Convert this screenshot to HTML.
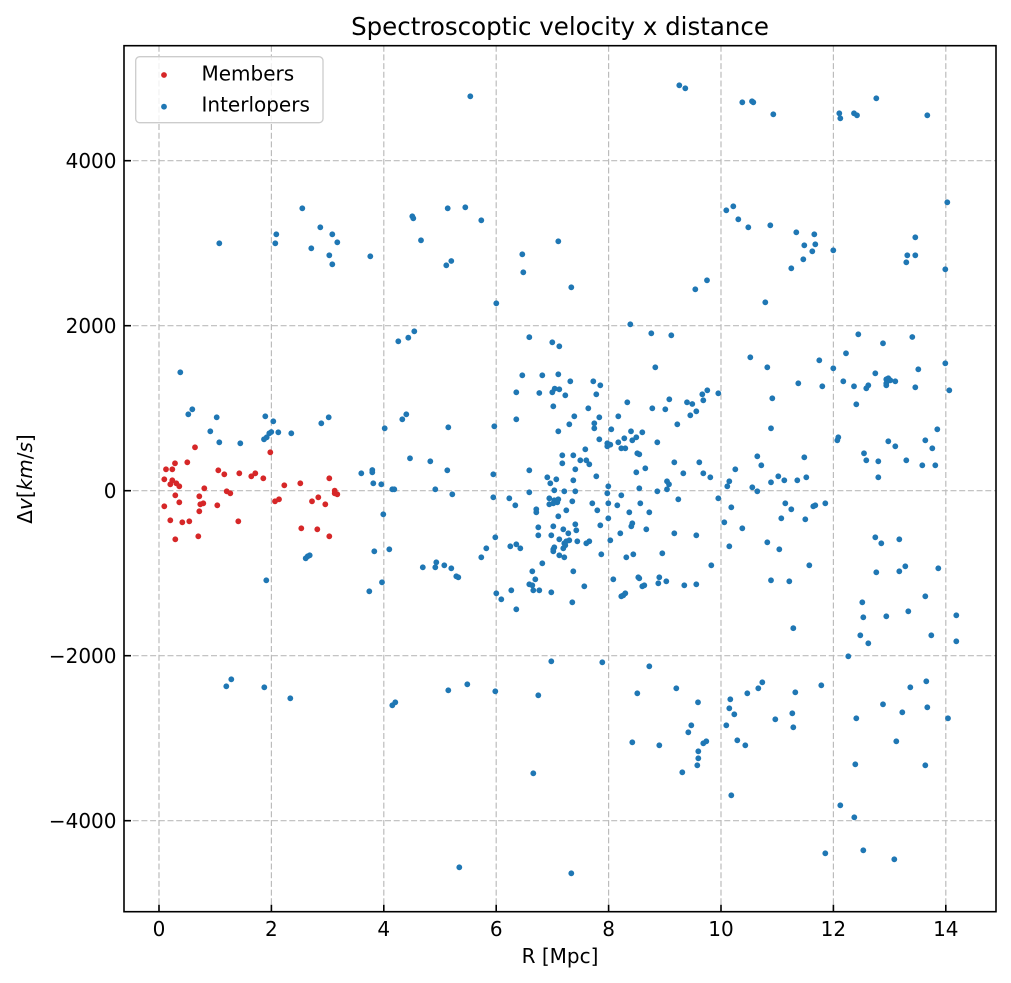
<!DOCTYPE html>
<html>
<head>
<meta charset="utf-8">
<style>
html,body{margin:0;padding:0;background:#fff;}
svg{display:block;}
text{font-family:"DejaVu Sans","Liberation Sans",sans-serif;fill:#000;}
</style>
</head>
<body>
<svg width="1011" height="983" viewBox="0 0 1011 983" xmlns="http://www.w3.org/2000/svg">
<rect x="0" y="0" width="1011" height="983" fill="#fff"/>
<!-- grid -->
<g stroke="#bcbcbc" stroke-width="1.2" stroke-dasharray="6,2.7" fill="none">
<line x1="159" y1="45.7" x2="159" y2="911.7"/>
<line x1="271.4" y1="45.7" x2="271.4" y2="911.7"/>
<line x1="383.8" y1="45.7" x2="383.8" y2="911.7"/>
<line x1="496.2" y1="45.7" x2="496.2" y2="911.7"/>
<line x1="608.6" y1="45.7" x2="608.6" y2="911.7"/>
<line x1="721" y1="45.7" x2="721" y2="911.7"/>
<line x1="833.4" y1="45.7" x2="833.4" y2="911.7"/>
<line x1="945.8" y1="45.7" x2="945.8" y2="911.7"/>
<line x1="124" y1="160.7" x2="996" y2="160.7"/>
<line x1="124" y1="325.7" x2="996" y2="325.7"/>
<line x1="124" y1="490.7" x2="996" y2="490.7"/>
<line x1="124" y1="655.7" x2="996" y2="655.7"/>
<line x1="124" y1="820.7" x2="996" y2="820.7"/>
</g>
<!-- interlopers -->
<g fill="#1f77b4">
<circle cx="219.3" cy="243.3" r="2.9"/><circle cx="276.3" cy="234.3" r="2.9"/><circle cx="275.3" cy="243.3" r="2.9"/><circle cx="302.3" cy="208.3" r="2.9"/><circle cx="320.3" cy="227.3" r="2.9"/><circle cx="332.3" cy="234.3" r="2.9"/><circle cx="337.3" cy="242.3" r="2.9"/><circle cx="311.3" cy="248.3" r="2.9"/><circle cx="329.3" cy="255.3" r="2.9"/><circle cx="332.3" cy="264.3" r="2.9"/><circle cx="370.3" cy="256.3" r="2.9"/><circle cx="412.3" cy="216.3" r="2.9"/><circle cx="413.3" cy="218.3" r="2.9"/><circle cx="421" cy="240.3" r="2.9"/><circle cx="414.3" cy="331.3" r="2.9"/><circle cx="408.3" cy="337.7" r="2.9"/><circle cx="398.3" cy="341.3" r="2.9"/>
<circle cx="470.3" cy="96.3" r="2.9"/><circle cx="679.3" cy="85.3" r="2.9"/><circle cx="685.3" cy="88.3" r="2.9"/><circle cx="447.7" cy="208.3" r="2.9"/><circle cx="465.3" cy="207.3" r="2.9"/><circle cx="481.3" cy="220.3" r="2.9"/><circle cx="446.3" cy="265.3" r="2.9"/><circle cx="451.3" cy="261" r="2.9"/><circle cx="522.3" cy="254.3" r="2.9"/><circle cx="523.3" cy="272.3" r="2.9"/><circle cx="558.3" cy="241.3" r="2.9"/><circle cx="571.3" cy="287.3" r="2.9"/><circle cx="496.3" cy="303.3" r="2.9"/><circle cx="630.3" cy="324.3" r="2.9"/><circle cx="651.3" cy="333.3" r="2.9"/><circle cx="671.3" cy="335.3" r="2.9"/><circle cx="695.3" cy="289.3" r="2.9"/><circle cx="707" cy="280.3" r="2.9"/><circle cx="529.3" cy="337.2" r="2.9"/><circle cx="552.3" cy="342.3" r="2.9"/><circle cx="559.3" cy="346.3" r="2.9"/>
<circle cx="742.3" cy="102.3" r="2.9"/><circle cx="752" cy="101.3" r="2.9"/><circle cx="753.3" cy="102.3" r="2.9"/><circle cx="773.3" cy="114.3" r="2.9"/><circle cx="839.3" cy="113.3" r="2.9"/><circle cx="840.3" cy="118.3" r="2.9"/><circle cx="854" cy="113.3" r="2.9"/><circle cx="857" cy="115.3" r="2.9"/><circle cx="876.3" cy="98.3" r="2.9"/><circle cx="927.3" cy="115.3" r="2.9"/><circle cx="726.3" cy="210.3" r="2.9"/><circle cx="733.3" cy="206.3" r="2.9"/><circle cx="738.3" cy="219.3" r="2.9"/><circle cx="748.3" cy="227.3" r="2.9"/><circle cx="770.3" cy="225.3" r="2.9"/><circle cx="796.3" cy="232.3" r="2.9"/><circle cx="814.3" cy="234.3" r="2.9"/><circle cx="804.3" cy="245.3" r="2.9"/><circle cx="815.3" cy="244.3" r="2.9"/><circle cx="812.3" cy="251.3" r="2.9"/><circle cx="803.3" cy="259.3" r="2.9"/><circle cx="791.3" cy="268.3" r="2.9"/><circle cx="833.3" cy="250.3" r="2.9"/><circle cx="765.3" cy="302.3" r="2.9"/><circle cx="947.3" cy="202.3" r="2.9"/><circle cx="915.3" cy="237.3" r="2.9"/><circle cx="907.3" cy="255.3" r="2.9"/><circle cx="915.3" cy="255.3" r="2.9"/><circle cx="906.3" cy="262.3" r="2.9"/><circle cx="945.3" cy="269.3" r="2.9"/><circle cx="858.3" cy="334.3" r="2.9"/><circle cx="912.3" cy="337" r="2.9"/>
<circle cx="180.3" cy="372.3" r="2.9"/><circle cx="188.3" cy="414.3" r="2.9"/><circle cx="192.3" cy="409.3" r="2.9"/><circle cx="216.7" cy="417.3" r="2.9"/><circle cx="210.3" cy="431.3" r="2.9"/><circle cx="219.3" cy="442.3" r="2.9"/><circle cx="240.3" cy="443.3" r="2.9"/><circle cx="265.3" cy="416.3" r="2.9"/><circle cx="273.3" cy="421.3" r="2.9"/><circle cx="264" cy="439.3" r="2.9"/><circle cx="266.7" cy="437.3" r="2.9"/><circle cx="269.3" cy="433.3" r="2.9"/><circle cx="271.3" cy="432" r="2.9"/><circle cx="278.3" cy="432.3" r="2.9"/><circle cx="291.3" cy="433.3" r="2.9"/><circle cx="321.3" cy="423.3" r="2.9"/><circle cx="328.7" cy="417.3" r="2.9"/><circle cx="402.3" cy="419.3" r="2.9"/><circle cx="406.3" cy="414.3" r="2.9"/><circle cx="384.7" cy="428.3" r="2.9"/><circle cx="410" cy="458.3" r="2.9"/><circle cx="361.3" cy="473.3" r="2.9"/><circle cx="372.3" cy="470" r="2.9"/><circle cx="372.3" cy="472.3" r="2.9"/><circle cx="373.3" cy="483.3" r="2.9"/><circle cx="381.3" cy="484.3" r="2.9"/><circle cx="392.3" cy="489.3" r="2.9"/><circle cx="394.3" cy="489.3" r="2.9"/><circle cx="383.3" cy="514.3" r="2.9"/><circle cx="374.3" cy="551.3" r="2.9"/><circle cx="389.3" cy="549.3" r="2.9"/><circle cx="422.8" cy="567.3" r="2.9"/><circle cx="305.7" cy="558.3" r="2.9"/><circle cx="307.7" cy="556.3" r="2.9"/><circle cx="309.7" cy="555.3" r="2.9"/><circle cx="266.3" cy="580.3" r="2.9"/><circle cx="382" cy="582.3" r="2.9"/><circle cx="369.3" cy="591.3" r="2.9"/>
<circle cx="655.3" cy="367.3" r="2.9"/><circle cx="522.3" cy="375.3" r="2.9"/><circle cx="542.3" cy="375.3" r="2.9"/><circle cx="558.3" cy="374.3" r="2.9"/><circle cx="570.3" cy="381.3" r="2.9"/><circle cx="593.3" cy="381.3" r="2.9"/><circle cx="600.3" cy="385.3" r="2.9"/><circle cx="516.3" cy="392.3" r="2.9"/><circle cx="539.3" cy="393" r="2.9"/><circle cx="552.3" cy="392.3" r="2.9"/><circle cx="554.7" cy="388.7" r="2.9"/><circle cx="559.3" cy="389.3" r="2.9"/><circle cx="565.3" cy="395.3" r="2.9"/><circle cx="596.3" cy="394.3" r="2.9"/><circle cx="553.3" cy="406.3" r="2.9"/><circle cx="588.3" cy="408.3" r="2.9"/><circle cx="627.3" cy="402.3" r="2.9"/><circle cx="652.3" cy="408.3" r="2.9"/><circle cx="665.3" cy="409.3" r="2.9"/><circle cx="669.3" cy="399.3" r="2.9"/><circle cx="687" cy="402.3" r="2.9"/><circle cx="692.3" cy="404" r="2.9"/><circle cx="702.3" cy="394.3" r="2.9"/><circle cx="707.3" cy="390.3" r="2.9"/><circle cx="703.3" cy="400.3" r="2.9"/><circle cx="718.3" cy="393.3" r="2.9"/><circle cx="696.3" cy="411.3" r="2.9"/><circle cx="690.3" cy="415.3" r="2.9"/><circle cx="677.3" cy="424.3" r="2.9"/><circle cx="448.3" cy="427.3" r="2.9"/><circle cx="494.3" cy="426.3" r="2.9"/><circle cx="516.3" cy="419.3" r="2.9"/><circle cx="574.3" cy="416.3" r="2.9"/><circle cx="569.3" cy="424.3" r="2.9"/><circle cx="558.3" cy="431.3" r="2.9"/><circle cx="599.3" cy="417.3" r="2.9"/><circle cx="594.3" cy="423.3" r="2.9"/><circle cx="594.3" cy="428.3" r="2.9"/><circle cx="618.3" cy="416.3" r="2.9"/><circle cx="611.3" cy="429.3" r="2.9"/><circle cx="631" cy="431.3" r="2.9"/><circle cx="642.3" cy="432.3" r="2.9"/><circle cx="599.3" cy="439.3" r="2.9"/><circle cx="607.3" cy="443.3" r="2.9"/><circle cx="610.3" cy="444.7" r="2.9"/><circle cx="607.3" cy="446.3" r="2.9"/><circle cx="618.3" cy="442.3" r="2.9"/><circle cx="624.3" cy="438.3" r="2.9"/><circle cx="632.3" cy="440.3" r="2.9"/><circle cx="636.3" cy="437.3" r="2.9"/><circle cx="621.3" cy="448.3" r="2.9"/><circle cx="625.3" cy="448.3" r="2.9"/><circle cx="657.3" cy="442.3" r="2.9"/><circle cx="637.3" cy="453.3" r="2.9"/><circle cx="639.3" cy="454.3" r="2.9"/><circle cx="585.3" cy="449.3" r="2.9"/><circle cx="562.3" cy="455.3" r="2.9"/><circle cx="573.3" cy="455.3" r="2.9"/><circle cx="580.3" cy="460.3" r="2.9"/><circle cx="586.3" cy="460.3" r="2.9"/><circle cx="589.3" cy="464.3" r="2.9"/><circle cx="562.3" cy="463.3" r="2.9"/><circle cx="575.3" cy="469.3" r="2.9"/><circle cx="430.3" cy="461.3" r="2.9"/><circle cx="447.3" cy="470.3" r="2.9"/><circle cx="493.3" cy="474.3" r="2.9"/><circle cx="529.3" cy="470.3" r="2.9"/><circle cx="547.3" cy="477.3" r="2.9"/><circle cx="556.3" cy="479.3" r="2.9"/><circle cx="550.3" cy="483.3" r="2.9"/><circle cx="573.3" cy="480.3" r="2.9"/><circle cx="596.3" cy="476.3" r="2.9"/><circle cx="636.3" cy="472.3" r="2.9"/><circle cx="645.3" cy="468.3" r="2.9"/><circle cx="674.3" cy="462.3" r="2.9"/><circle cx="683.3" cy="473.3" r="2.9"/><circle cx="699.3" cy="462.3" r="2.9"/><circle cx="703.3" cy="473.3" r="2.9"/><circle cx="710.3" cy="477.3" r="2.9"/><circle cx="667" cy="481.3" r="2.9"/><circle cx="669" cy="484.3" r="2.9"/><circle cx="667" cy="489.3" r="2.9"/><circle cx="657.3" cy="491.3" r="2.9"/><circle cx="639.3" cy="488.3" r="2.9"/><circle cx="608.3" cy="486.3" r="2.9"/><circle cx="607.3" cy="493.3" r="2.9"/><circle cx="435.3" cy="489.3" r="2.9"/><circle cx="452.3" cy="494.3" r="2.9"/><circle cx="493.3" cy="497.3" r="2.9"/><circle cx="509.3" cy="498.3" r="2.9"/><circle cx="515.3" cy="505.3" r="2.9"/><circle cx="529.3" cy="492.3" r="2.9"/><circle cx="554.3" cy="490.3" r="2.9"/><circle cx="564.3" cy="491.3" r="2.9"/><circle cx="575.3" cy="491.3" r="2.9"/><circle cx="549.3" cy="498.3" r="2.9"/><circle cx="554.3" cy="500.3" r="2.9"/><circle cx="558.3" cy="499.3" r="2.9"/><circle cx="549.3" cy="504.3" r="2.9"/><circle cx="553.3" cy="503.3" r="2.9"/><circle cx="557.3" cy="502.3" r="2.9"/><circle cx="572.3" cy="501.3" r="2.9"/><circle cx="592.3" cy="503.3" r="2.9"/><circle cx="608.3" cy="503.3" r="2.9"/><circle cx="617.3" cy="505.3" r="2.9"/><circle cx="621.3" cy="495.3" r="2.9"/><circle cx="640.3" cy="503.3" r="2.9"/><circle cx="678.3" cy="499.3" r="2.9"/><circle cx="718.3" cy="498.3" r="2.9"/><circle cx="536.3" cy="509.3" r="2.9"/><circle cx="536.3" cy="512.3" r="2.9"/><circle cx="566.3" cy="510.3" r="2.9"/><circle cx="558.3" cy="516.3" r="2.9"/><circle cx="597.3" cy="510.3" r="2.9"/><circle cx="629.3" cy="512.3" r="2.9"/><circle cx="649.3" cy="512.3" r="2.9"/><circle cx="608.3" cy="518.3" r="2.9"/><circle cx="600.3" cy="525.3" r="2.9"/><circle cx="575.3" cy="524.3" r="2.9"/><circle cx="576.3" cy="530.3" r="2.9"/><circle cx="553.3" cy="526.3" r="2.9"/><circle cx="563.3" cy="529.3" r="2.9"/><circle cx="568.3" cy="533.3" r="2.9"/><circle cx="538.3" cy="527.3" r="2.9"/><circle cx="538.3" cy="535.3" r="2.9"/><circle cx="551.3" cy="535.3" r="2.9"/><circle cx="559.3" cy="539.3" r="2.9"/><circle cx="564.3" cy="543.3" r="2.9"/><circle cx="566.3" cy="541.3" r="2.9"/><circle cx="569.3" cy="540.3" r="2.9"/><circle cx="563.3" cy="548.3" r="2.9"/><circle cx="565.3" cy="545.3" r="2.9"/><circle cx="577.3" cy="541.3" r="2.9"/><circle cx="586.3" cy="543.3" r="2.9"/><circle cx="589.3" cy="541.3" r="2.9"/><circle cx="632.3" cy="523.3" r="2.9"/><circle cx="631.3" cy="526.3" r="2.9"/><circle cx="646.3" cy="529.3" r="2.9"/><circle cx="620.3" cy="533.3" r="2.9"/><circle cx="610.3" cy="540.3" r="2.9"/><circle cx="674.3" cy="533.3" r="2.9"/><circle cx="696.3" cy="535.3" r="2.9"/><circle cx="495.3" cy="537.3" r="2.9"/><circle cx="486.3" cy="548.3" r="2.9"/><circle cx="481.3" cy="557.3" r="2.9"/><circle cx="510.3" cy="546.3" r="2.9"/><circle cx="516.3" cy="544.3" r="2.9"/><circle cx="520.3" cy="548.3" r="2.9"/><circle cx="553.3" cy="549.3" r="2.9"/><circle cx="554.3" cy="547.3" r="2.9"/><circle cx="553.3" cy="551.3" r="2.9"/><circle cx="559.3" cy="555.3" r="2.9"/><circle cx="564.3" cy="557.3" r="2.9"/><circle cx="601.3" cy="554.3" r="2.9"/><circle cx="626.3" cy="557.3" r="2.9"/><circle cx="633.3" cy="554.3" r="2.9"/><circle cx="662.3" cy="553.3" r="2.9"/><circle cx="711.3" cy="565.3" r="2.9"/><circle cx="435.3" cy="567.3" r="2.9"/><circle cx="436.3" cy="562.3" r="2.9"/><circle cx="444.3" cy="565.3" r="2.9"/><circle cx="451.3" cy="568.3" r="2.9"/><circle cx="456.3" cy="576.3" r="2.9"/><circle cx="458.3" cy="577.3" r="2.9"/><circle cx="542.3" cy="563.3" r="2.9"/><circle cx="532.3" cy="571.3" r="2.9"/><circle cx="573.3" cy="571.3" r="2.9"/><circle cx="535.3" cy="579.3" r="2.9"/><circle cx="529.3" cy="584.3" r="2.9"/><circle cx="532.3" cy="585.3" r="2.9"/><circle cx="533.3" cy="590.3" r="2.9"/><circle cx="539.3" cy="590.3" r="2.9"/><circle cx="551.3" cy="592.3" r="2.9"/><circle cx="584.3" cy="586.3" r="2.9"/><circle cx="613.3" cy="579.3" r="2.9"/><circle cx="638.3" cy="577.3" r="2.9"/><circle cx="639.3" cy="578.3" r="2.9"/><circle cx="642.3" cy="586.3" r="2.9"/><circle cx="644.3" cy="585.3" r="2.9"/><circle cx="659.3" cy="577.3" r="2.9"/><circle cx="658.3" cy="583.3" r="2.9"/><circle cx="666.3" cy="581.3" r="2.9"/><circle cx="684.3" cy="585.3" r="2.9"/><circle cx="696.3" cy="584.3" r="2.9"/><circle cx="496.3" cy="593.3" r="2.9"/><circle cx="501.3" cy="599.3" r="2.9"/><circle cx="511.3" cy="590.3" r="2.9"/><circle cx="516.3" cy="609.3" r="2.9"/><circle cx="572.3" cy="602.3" r="2.9"/><circle cx="621.3" cy="596.3" r="2.9"/><circle cx="623.3" cy="595.3" r="2.9"/><circle cx="625.3" cy="593.3" r="2.9"/>
<circle cx="883" cy="343.3" r="2.9"/><circle cx="846" cy="353.3" r="2.9"/><circle cx="750.3" cy="357.3" r="2.9"/><circle cx="767.3" cy="367.3" r="2.9"/><circle cx="819.3" cy="360.3" r="2.9"/><circle cx="833.3" cy="368.3" r="2.9"/><circle cx="945.3" cy="363.3" r="2.9"/><circle cx="918.3" cy="369.3" r="2.9"/><circle cx="875.3" cy="373.3" r="2.9"/><circle cx="843.3" cy="381.3" r="2.9"/><circle cx="854" cy="386.3" r="2.9"/><circle cx="866.3" cy="388.3" r="2.9"/><circle cx="868.3" cy="385.3" r="2.9"/><circle cx="886.3" cy="379.3" r="2.9"/><circle cx="888.3" cy="378.3" r="2.9"/><circle cx="886.3" cy="383.3" r="2.9"/><circle cx="890.3" cy="380.3" r="2.9"/><circle cx="886.3" cy="385.3" r="2.9"/><circle cx="895.3" cy="381.3" r="2.9"/><circle cx="915.3" cy="387.3" r="2.9"/><circle cx="949.3" cy="390.3" r="2.9"/><circle cx="798.3" cy="383.3" r="2.9"/><circle cx="822.3" cy="386.3" r="2.9"/><circle cx="772.3" cy="398.3" r="2.9"/><circle cx="856.3" cy="404.3" r="2.9"/><circle cx="771" cy="428.3" r="2.9"/><circle cx="837.3" cy="440.3" r="2.9"/><circle cx="838.3" cy="437.3" r="2.9"/><circle cx="937.3" cy="429.3" r="2.9"/><circle cx="888.3" cy="441.3" r="2.9"/><circle cx="895.3" cy="446.3" r="2.9"/><circle cx="925.3" cy="440.3" r="2.9"/><circle cx="932.3" cy="448.3" r="2.9"/><circle cx="864" cy="453.3" r="2.9"/><circle cx="866.3" cy="460.3" r="2.9"/><circle cx="878.3" cy="461.3" r="2.9"/><circle cx="906.3" cy="460.3" r="2.9"/><circle cx="922.3" cy="465.3" r="2.9"/><circle cx="935.3" cy="465.3" r="2.9"/><circle cx="878.3" cy="477.3" r="2.9"/><circle cx="757.3" cy="456.3" r="2.9"/><circle cx="761.3" cy="465.3" r="2.9"/><circle cx="804.3" cy="457.3" r="2.9"/><circle cx="735.3" cy="469.3" r="2.9"/><circle cx="778.3" cy="476.3" r="2.9"/><circle cx="784.3" cy="480.3" r="2.9"/><circle cx="771" cy="482.3" r="2.9"/><circle cx="797.3" cy="480.3" r="2.9"/><circle cx="806.3" cy="477.3" r="2.9"/><circle cx="729.3" cy="481.3" r="2.9"/><circle cx="727.3" cy="486.3" r="2.9"/><circle cx="752.3" cy="487.3" r="2.9"/><circle cx="757.3" cy="491.3" r="2.9"/><circle cx="731.3" cy="507.3" r="2.9"/><circle cx="785.3" cy="503.3" r="2.9"/><circle cx="791.3" cy="509.3" r="2.9"/><circle cx="813.3" cy="506.3" r="2.9"/><circle cx="815.3" cy="505.3" r="2.9"/><circle cx="825.3" cy="503.3" r="2.9"/><circle cx="781.3" cy="518.3" r="2.9"/><circle cx="805.3" cy="519.3" r="2.9"/><circle cx="724.3" cy="522.3" r="2.9"/><circle cx="742.3" cy="528.3" r="2.9"/><circle cx="767.3" cy="542.3" r="2.9"/><circle cx="779.3" cy="549.3" r="2.9"/><circle cx="729.3" cy="546.3" r="2.9"/><circle cx="809.3" cy="565.3" r="2.9"/><circle cx="771" cy="580.3" r="2.9"/><circle cx="789.3" cy="581.3" r="2.9"/><circle cx="793.3" cy="628.2" r="2.9"/><circle cx="875.3" cy="537.3" r="2.9"/><circle cx="881.3" cy="543.3" r="2.9"/><circle cx="899.3" cy="539.3" r="2.9"/><circle cx="876.3" cy="572.3" r="2.9"/><circle cx="899.3" cy="571.3" r="2.9"/><circle cx="905.3" cy="566.3" r="2.9"/><circle cx="938.3" cy="568.3" r="2.9"/><circle cx="925.3" cy="596.3" r="2.9"/><circle cx="862.3" cy="602.3" r="2.9"/><circle cx="863.3" cy="617.3" r="2.9"/><circle cx="886.3" cy="616.3" r="2.9"/><circle cx="908.3" cy="611.3" r="2.9"/><circle cx="956.3" cy="615.3" r="2.9"/>
<circle cx="226.3" cy="686.3" r="2.9"/><circle cx="231.3" cy="679.3" r="2.9"/><circle cx="264.3" cy="687.3" r="2.9"/><circle cx="290.3" cy="698.3" r="2.9"/><circle cx="392.3" cy="705.3" r="2.9"/><circle cx="395.3" cy="702.3" r="2.9"/>
<circle cx="448.3" cy="690.3" r="2.9"/><circle cx="467.3" cy="684.3" r="2.9"/><circle cx="495.3" cy="691.3" r="2.9"/><circle cx="538.3" cy="695.3" r="2.9"/><circle cx="551.3" cy="661.3" r="2.9"/><circle cx="602.3" cy="662.3" r="2.9"/><circle cx="649.3" cy="666.3" r="2.9"/><circle cx="637.3" cy="693.3" r="2.9"/><circle cx="676.3" cy="688.3" r="2.9"/><circle cx="698" cy="702.3" r="2.9"/><circle cx="691.3" cy="725.3" r="2.9"/><circle cx="688.3" cy="732.3" r="2.9"/><circle cx="632.3" cy="742.3" r="2.9"/><circle cx="659.3" cy="745.3" r="2.9"/><circle cx="703.3" cy="743.3" r="2.9"/><circle cx="706.3" cy="741.3" r="2.9"/><circle cx="698.3" cy="751.3" r="2.9"/><circle cx="698.3" cy="758.3" r="2.9"/><circle cx="697.3" cy="765.3" r="2.9"/><circle cx="682.3" cy="772.3" r="2.9"/><circle cx="533.3" cy="773.3" r="2.9"/><circle cx="459.3" cy="867.3" r="2.9"/><circle cx="571.3" cy="873.3" r="2.9"/>
<circle cx="860.3" cy="635.3" r="2.9"/><circle cx="868.3" cy="643.3" r="2.9"/><circle cx="931.3" cy="635.3" r="2.9"/><circle cx="956.3" cy="641.3" r="2.9"/><circle cx="848.3" cy="656.3" r="2.9"/><circle cx="730.3" cy="699.3" r="2.9"/><circle cx="729.3" cy="708.3" r="2.9"/><circle cx="734.3" cy="714.3" r="2.9"/><circle cx="726.3" cy="725.3" r="2.9"/><circle cx="747.3" cy="693.3" r="2.9"/><circle cx="758.3" cy="688.3" r="2.9"/><circle cx="762.3" cy="682.3" r="2.9"/><circle cx="795.3" cy="692.3" r="2.9"/><circle cx="821.3" cy="685.3" r="2.9"/><circle cx="775.3" cy="719.3" r="2.9"/><circle cx="792.3" cy="713.3" r="2.9"/><circle cx="793.3" cy="727.3" r="2.9"/><circle cx="737.3" cy="740.3" r="2.9"/><circle cx="745.3" cy="745.3" r="2.9"/><circle cx="731.3" cy="795.3" r="2.9"/><circle cx="856.3" cy="718.3" r="2.9"/><circle cx="883" cy="704.3" r="2.9"/><circle cx="910.3" cy="687.3" r="2.9"/><circle cx="926.3" cy="681.3" r="2.9"/><circle cx="902.3" cy="712.3" r="2.9"/><circle cx="927.3" cy="707.3" r="2.9"/><circle cx="948" cy="718.3" r="2.9"/><circle cx="896.3" cy="741.3" r="2.9"/><circle cx="855.3" cy="764.3" r="2.9"/><circle cx="925.3" cy="765.3" r="2.9"/><circle cx="840.3" cy="805.3" r="2.9"/><circle cx="854.3" cy="817.3" r="2.9"/><circle cx="825.3" cy="853.3" r="2.9"/><circle cx="863.3" cy="850.3" r="2.9"/><circle cx="894.3" cy="859.3" r="2.9"/>
</g>
<!-- members -->
<g fill="#d62728">
<circle cx="195" cy="447.3" r="2.9"/><circle cx="270.3" cy="452.3" r="2.9"/><circle cx="175" cy="463.3" r="2.9"/><circle cx="187.3" cy="462.3" r="2.9"/><circle cx="166" cy="469.3" r="2.9"/><circle cx="172.3" cy="469.3" r="2.9"/><circle cx="218.3" cy="470.3" r="2.9"/><circle cx="224.3" cy="474.3" r="2.9"/><circle cx="239.3" cy="473.3" r="2.9"/><circle cx="251.3" cy="476.3" r="2.9"/><circle cx="255.3" cy="473.3" r="2.9"/><circle cx="263.3" cy="478.3" r="2.9"/><circle cx="329.3" cy="478.3" r="2.9"/><circle cx="164.3" cy="479.3" r="2.9"/><circle cx="172.3" cy="480.3" r="2.9"/><circle cx="170.3" cy="484.3" r="2.9"/><circle cx="176.3" cy="483.3" r="2.9"/><circle cx="179.3" cy="486.3" r="2.9"/><circle cx="204.3" cy="488.3" r="2.9"/><circle cx="284.3" cy="485.3" r="2.9"/><circle cx="300.3" cy="483.3" r="2.9"/><circle cx="226.7" cy="491.3" r="2.9"/><circle cx="230.3" cy="493.3" r="2.9"/><circle cx="334.7" cy="490.7" r="2.9"/><circle cx="337.3" cy="494.3" r="2.9"/><circle cx="334.7" cy="493.3" r="2.9"/><circle cx="175.3" cy="495.3" r="2.9"/><circle cx="199.3" cy="496.3" r="2.9"/><circle cx="318.3" cy="497.3" r="2.9"/><circle cx="275" cy="501.3" r="2.9"/><circle cx="279" cy="499.3" r="2.9"/><circle cx="312" cy="501.3" r="2.9"/><circle cx="325.3" cy="504.3" r="2.9"/><circle cx="179.3" cy="502.3" r="2.9"/><circle cx="164.3" cy="506.3" r="2.9"/><circle cx="200.3" cy="504.3" r="2.9"/><circle cx="203.3" cy="503.3" r="2.9"/><circle cx="217.3" cy="505.3" r="2.9"/><circle cx="199.3" cy="511.3" r="2.9"/><circle cx="170.3" cy="520.3" r="2.9"/><circle cx="182.3" cy="522.3" r="2.9"/><circle cx="189.3" cy="521.3" r="2.9"/><circle cx="238.3" cy="521.3" r="2.9"/><circle cx="301.3" cy="528.3" r="2.9"/><circle cx="317.3" cy="529.3" r="2.9"/><circle cx="329.3" cy="536.3" r="2.9"/><circle cx="175.3" cy="539.3" r="2.9"/><circle cx="198.3" cy="536.3" r="2.9"/>
</g>
<!-- spines -->
<rect x="124" y="45.7" width="872" height="866" fill="none" stroke="#000" stroke-width="1.6"/>
<!-- ticks (inward) -->
<g stroke="#000" stroke-width="1.6">
<line x1="124" y1="160.7" x2="131" y2="160.7"/>
<line x1="124" y1="325.7" x2="131" y2="325.7"/>
<line x1="124" y1="490.7" x2="131" y2="490.7"/>
<line x1="124" y1="655.7" x2="131" y2="655.7"/>
<line x1="124" y1="820.7" x2="131" y2="820.7"/>
<line x1="159" y1="911.7" x2="159" y2="904.7"/>
<line x1="271.4" y1="911.7" x2="271.4" y2="904.7"/>
<line x1="383.8" y1="911.7" x2="383.8" y2="904.7"/>
<line x1="496.2" y1="911.7" x2="496.2" y2="904.7"/>
<line x1="608.6" y1="911.7" x2="608.6" y2="904.7"/>
<line x1="721" y1="911.7" x2="721" y2="904.7"/>
<line x1="833.4" y1="911.7" x2="833.4" y2="904.7"/>
<line x1="945.8" y1="911.7" x2="945.8" y2="904.7"/>
</g>
<!-- tick labels -->
<g font-size="20" text-anchor="end">
<text x="116.5" y="168">4000</text>
<text x="116.5" y="333">2000</text>
<text x="116.5" y="498">0</text>
<text x="116.5" y="663">−2000</text>
<text x="116.5" y="828">−4000</text>
</g>
<g font-size="20" text-anchor="middle">
<text x="159" y="936">0</text>
<text x="271.4" y="936">2</text>
<text x="383.8" y="936">4</text>
<text x="496.2" y="936">6</text>
<text x="608.6" y="936">8</text>
<text x="721" y="936">10</text>
<text x="833.4" y="936">12</text>
<text x="945.8" y="936">14</text>
</g>
<!-- axis labels -->
<text x="560" y="963" font-size="20" text-anchor="middle">R [Mpc]</text>
<text transform="translate(32,479) rotate(-90)" font-size="20" text-anchor="middle">Δ<tspan font-style="italic">v</tspan>[<tspan font-style="italic">km</tspan>/<tspan font-style="italic">s</tspan>]</text>
<!-- title -->
<text x="560" y="35" font-size="24.5" text-anchor="middle">Spectroscoptic velocity x distance</text>
<!-- legend -->
<rect x="135.7" y="56.7" width="187.3" height="66" rx="4" ry="4" fill="#fff" fill-opacity="0.8" stroke="#cccccc" stroke-width="1.3"/>
<circle cx="164" cy="75" r="2.9" fill="#d62728"/>
<circle cx="164" cy="106.7" r="2.9" fill="#1f77b4"/>
<text x="201.5" y="80.5" font-size="20">Members</text>
<text x="201.5" y="111.5" font-size="20">Interlopers</text>
</svg>
</body>
</html>
